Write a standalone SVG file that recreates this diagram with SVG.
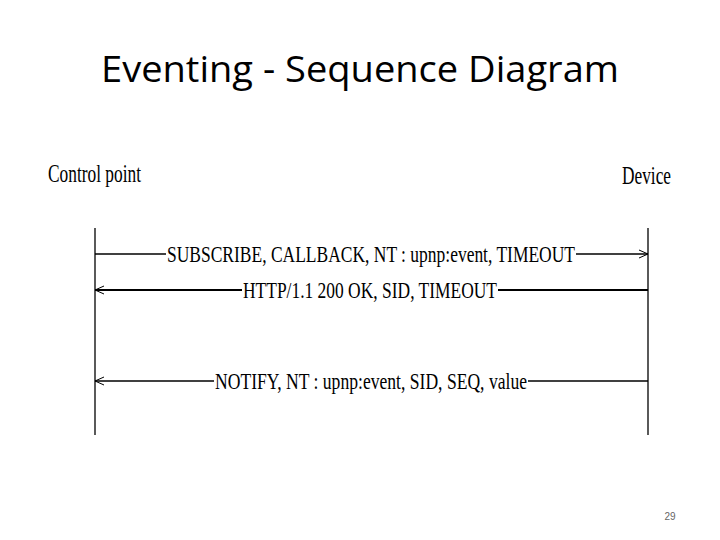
<svg xmlns="http://www.w3.org/2000/svg" width="720" height="540" viewBox="0 0 720 540">
<defs>
<style>
.t{font-family:"Liberation Serif","Times New Roman",serif;font-size:23px;fill:#000}
.h{font-family:"Liberation Serif","Times New Roman",serif;font-size:25px;fill:#000}
.ln{stroke:#000;stroke-width:1.3;fill:none}
.lt{stroke:#000;stroke-width:2;fill:none}
</style>
<marker id="ah" markerWidth="12" markerHeight="10" refX="10" refY="5" orient="auto" markerUnits="userSpaceOnUse">
<path d="M1,1 L10,5 L1,9" fill="none" stroke="#000" stroke-width="1"/>
</marker>
</defs>
<rect width="720" height="540" fill="#fff"/>
<text x="360" y="82" text-anchor="middle" font-family="Open Sans, Liberation Sans, sans-serif" font-size="36" fill="#000" textLength="518" lengthAdjust="spacingAndGlyphs">Eventing - Sequence Diagram</text>
<g id="control-point">
<text class="h" x="48" y="182" textLength="93" lengthAdjust="spacingAndGlyphs">Control point</text>
<line class="ln" x1="95" y1="228" x2="95" y2="435"/>
</g>
<g id="device">
<text class="h" x="622" y="184" textLength="49" lengthAdjust="spacingAndGlyphs">Device</text>
<line class="ln" x1="648" y1="228" x2="648" y2="435"/>
</g>
<g id="connectors">
<g id="msg1">
<line class="ln" x1="95" y1="254" x2="166" y2="254"/>
<line class="ln" x1="576" y1="254" x2="648" y2="254" marker-end="url(#ah)"/>
<text class="t" x="167" y="262" textLength="408" lengthAdjust="spacingAndGlyphs">SUBSCRIBE, CALLBACK, NT : upnp:event, TIMEOUT</text>
</g>
<g id="msg2">
<line class="lt" x1="242" y1="290" x2="95" y2="290" marker-end="url(#ah)"/>
<line class="lt" x1="498" y1="290" x2="648" y2="290"/>
<text class="t" x="243" y="298" textLength="254" lengthAdjust="spacingAndGlyphs">HTTP/1.1 200 OK, SID, TIMEOUT</text>
</g>
<g id="msg3">
<line class="ln" x1="214" y1="381" x2="95" y2="381" marker-end="url(#ah)"/>
<line class="ln" x1="528" y1="381" x2="648" y2="381"/>
<text class="t" x="215" y="389" textLength="312" lengthAdjust="spacingAndGlyphs">NOTIFY, NT : upnp:event, SID, SEQ, value</text>
</g>
</g>
<text x="670" y="520" text-anchor="middle" font-family="Liberation Sans, sans-serif" font-size="10" fill="#666">29</text>
</svg>
